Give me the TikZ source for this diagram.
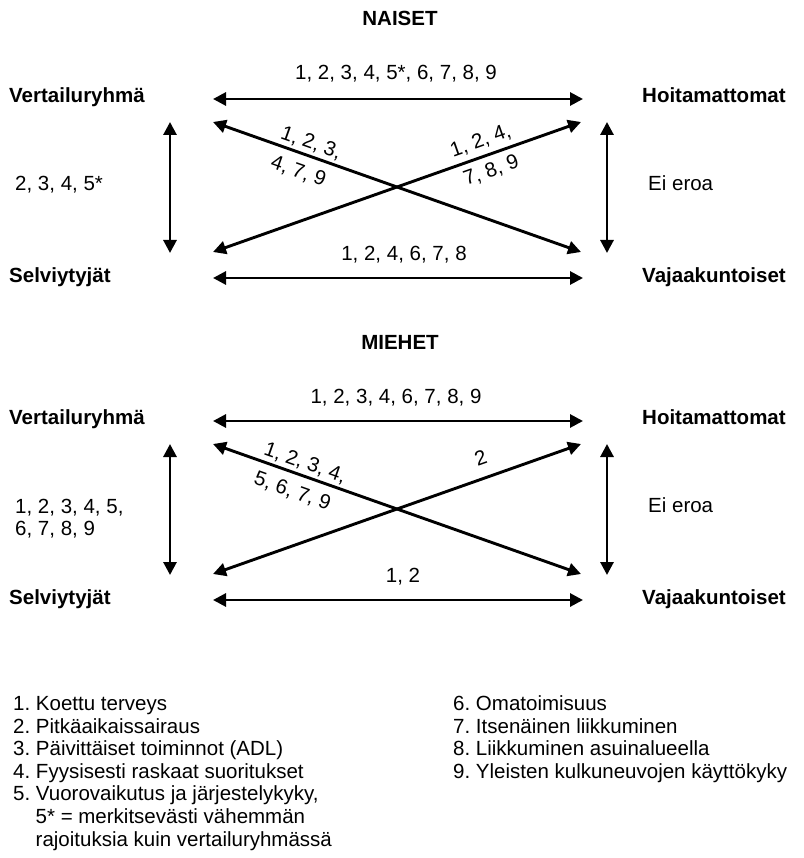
\documentclass[tikz,border=0pt]{standalone}
\usepackage{fontspec}
\setmainfont{Liberation Sans}
\usetikzlibrary{arrows.meta}
\frenchspacing
\begin{document}
\begin{tikzpicture}[x=1pt,y=-1pt,
  every node/.style={inner sep=0pt, font=\fontsize{20.5}{22.5}\selectfont},
  grp/.style={anchor=mid west, font=\fontsize{20.5}{22.5}\selectfont\bfseries},
  ttl/.style={anchor=mid, font=\fontsize{20.5}{22.5}\selectfont\bfseries},
  lbl/.style={anchor=mid},
  dlbl/.style={anchor=center, align=center},
  leg/.style={anchor=mid west},
  link/.style={{Triangle[length=13pt,width=13pt]}-{Triangle[length=13pt,width=13pt]}, line width=2.9pt},
]
\fill[white] (0,0) rectangle (803,858);
\useasboundingbox (0,0) rectangle (803,858);

% ---------------- NAISET ----------------
\node[ttl] (t1) at (400,23) {NAISET};
\node[grp] (vr1) at (9,100) {Vertailuryhmä};
\node[grp] (ho1) at (642,100) {Hoitamattomat};
\node[grp] (se1) at (9,280) {Selviytyjät};
\node[grp] (va1) at (642,280) {Vajaakuntoiset};

\coordinate (a1tl) at (213,99);  \coordinate (a1tr) at (583,99);
\coordinate (a1bl) at (213,278); \coordinate (a1br) at (583,278);
\coordinate (a1lu) at (170,122); \coordinate (a1ld) at (170,253);
\coordinate (a1ru) at (607,122); \coordinate (a1rd) at (607,253);
\coordinate (a1d1) at (213,122); \coordinate (a1d2) at (581,252);
\coordinate (a1d3) at (213,252); \coordinate (a1d4) at (581,122);

\draw[link] (a1tl) -- (a1tr);
\draw[link] (a1bl) -- (a1br);
\draw[link] (a1lu) -- (a1ld);
\draw[link] (a1ru) -- (a1rd);
\draw[link] (a1d1) -- (a1d2);
\draw[link] (a1d3) -- (a1d4);

\node[lbl] (l1top) at (396,77) {1, 2, 3, 4, 5*, 6, 7, 8, 9};
\node[lbl] (l1bot) at (404,258) {1, 2, 4, 6, 7, 8};
\node[leg] (l1left) at (15,188) {2, 3, 4, 5*};
\node[leg] (l1right) at (648,188) {Ei eroa};
\node[dlbl, rotate=-19.5] (l1dl) at (303.5,157) {\hspace{5pt}1, 2, 3,\\[8.5pt]4, 7, 9\hspace{1pt}};
\node[dlbl, rotate=19.5] (l1dr) at (486,156) {1, 2, 4,\\[9pt]7, 8, 9};

% ---------------- MIEHET ----------------
\node[ttl] (t2) at (400,347) {MIEHET};
\node[grp] (vr2) at (9,422) {Vertailuryhmä};
\node[grp] (ho2) at (642,422) {Hoitamattomat};
\node[grp] (se2) at (9,602) {Selviytyjät};
\node[grp] (va2) at (642,602) {Vajaakuntoiset};

\coordinate (a2tl) at (213,421);  \coordinate (a2tr) at (583,421);
\coordinate (a2bl) at (213,600); \coordinate (a2br) at (583,600);
\coordinate (a2lu) at (170,444); \coordinate (a2ld) at (170,575);
\coordinate (a2ru) at (607,444); \coordinate (a2rd) at (607,575);
\coordinate (a2d1) at (213,444); \coordinate (a2d2) at (581,574);
\coordinate (a2d3) at (213,574); \coordinate (a2d4) at (581,444);

\draw[link] (a2tl) -- (a2tr);
\draw[link] (a2bl) -- (a2br);
\draw[link] (a2lu) -- (a2ld);
\draw[link] (a2ru) -- (a2rd);
\draw[link] (a2d1) -- (a2d2);
\draw[link] (a2d3) -- (a2d4);

\node[lbl] (l2top) at (396,401) {1, 2, 3, 4, 6, 7, 8, 9};
\node[lbl] (l2bot) at (403,580) {1, 2};
\node[leg] (l2left1) at (15,511) {1, 2, 3, 4, 5,};
\node[leg] (l2left2) at (15,533) {6, 7, 8, 9};
\node[leg] (l2right) at (648,510) {Ei eroa};
\node[dlbl, rotate=-19.5] (l2dl) at (297.5,477) {\hspace{5pt}1, 2, 3, 4,\\[8.5pt]5, 6, 7, 9\hspace{1pt}};
\node[lbl, rotate=19.5] (l2dc) at (482,462) {2};

% ---------------- Legend ----------------
\node[leg] (k1) at (13,708) {1. Koettu terveys};
\node[leg] (k2) at (13,730.5) {2. Pitkäaikaissairaus};
\node[leg] (k3) at (13,753) {3. Päivittäiset toiminnot (ADL)};
\node[leg] (k4) at (13,775.5) {4. Fyysisesti raskaat suoritukset};
\node[leg] (k5) at (13,798) {5. Vuorovaikutus ja järjestelykyky,};
\node[leg] (k5b) at (35.5,820.5) {5* = merkitsevästi vähemmän};
\node[leg] (k5c) at (35.5,844) {rajoituksia kuin vertailuryhmässä};
\node[leg] (k6) at (453,708) {6. Omatoimisuus};
\node[leg] (k7) at (453,730.5) {7. Itsenäinen liikkuminen};
\node[leg] (k8) at (453,753) {8. Liikkuminen asuinalueella};
\node[leg] (k9) at (453,775.5) {9. Yleisten kulkuneuvojen käyttökyky};
\end{tikzpicture}
\end{document}
